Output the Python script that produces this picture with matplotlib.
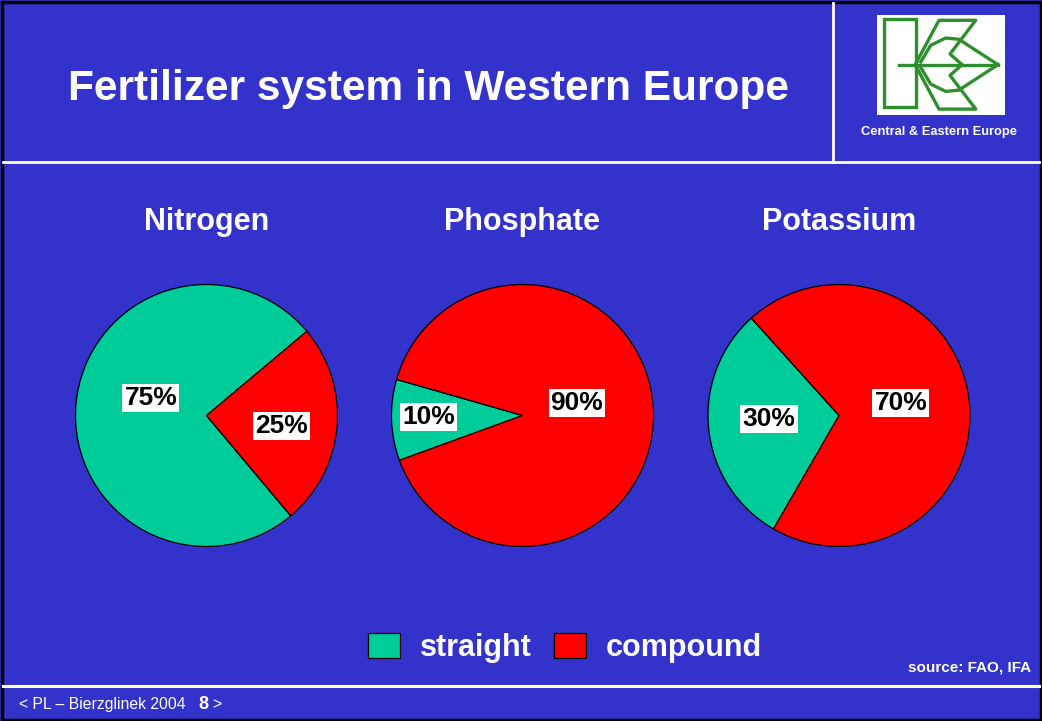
import matplotlib
matplotlib.use('Agg')
import matplotlib.pyplot as plt
from matplotlib.patches import Rectangle

plt.rcParams['font.family'] = ['Liberation Sans', 'DejaVu Sans']

# data
nutrients = ['Nitrogen', 'Phosphate', 'Potassium']
straight = [75, 10, 30]
compound = [25, 90, 70]
series_names = ['straight', 'compound']

# layout (pixels on a 1042x721 canvas)
W, H = 1042, 721
bg = '#3333CC'
green = '#00CC99'
red = '#FF0000'
centers = [(206.5, 415.5), (522.5, 415.5), (839, 415.5)]
radius = 131
start_angles = [40, 164, 132]
# label positions relative to pie centre, in radius units
label_pos = [[(-0.424, 0.134), (0.576, -0.080)],
             [(-0.714, -0.011), (0.416, 0.095)],
             [(-0.534, -0.027), (0.473, 0.095)]]

fig = plt.figure(figsize=(W / 100, H / 100), dpi=100)
fig.patch.set_facecolor(bg)

# overlay axes in pixel coordinates for the slide decorations
ax0 = fig.add_axes([0, 0, 1, 1])
ax0.set_xlim(0, W)
ax0.set_ylim(H, 0)
ax0.axis('off')

# frame
ax0.add_patch(Rectangle((1.5, 1.5), W - 3, H - 3, fill=False, ec='black', lw=2.5))
# header lines
ax0.plot([3, W - 3], [161.5, 161.5], color='white', lw=2)
ax0.plot([832.5, 832.5], [3, 161.5], color='white', lw=2)
# footer line
ax0.plot([3, W - 3], [685.5, 685.5], color='white', lw=2.2)

# title
ax0.text(429, 100, 'Fertilizer system in Western Europe', color='white',
         fontsize=30.5, fontweight='bold', ha='center', va='baseline')

# logo
ax0.add_patch(Rectangle((876.7, 14.7), 128, 100.6, fc='white', ec='none'))
lg = '#2f8f2f'
lw = 2.4
ax0.add_patch(Rectangle((884, 19.3), 31.7, 87.7, fill=False, ec=lg, lw=lw))
ax0.plot([899, 998], [64.7, 64.7], color=lg, lw=lw)
for s in (1, -1):
    def yy(v):
        return 64.7 + s * (v - 64.7)
    ax0.plot([915.7, 939, 975.7, 950, 962], [yy(63.7), yy(20.3), yy(20.3), yy(54), yy(64.7)],
             color=lg, lw=lw)
    ax0.plot([920.7, 930.7, 945.7, 959, 970.7, 998],
             [yy(62), yy(45.3), yy(38), yy(39.3), yy(47), yy(64.7)], color=lg, lw=lw)
ax0.text(939, 132, 'Central & Eastern Europe', color='white', fontsize=9.3,
         fontweight='bold', ha='center', va='center')

# subtitles
for name, (cx, cy) in zip(nutrients, centers):
    ax0.text(cx, 230, name, color='white', fontsize=22, fontweight='bold',
             ha='center', va='baseline')

# source and footer
ax0.text(1031, 668, 'source: FAO, IFA', color='white', fontsize=11,
         fontweight='bold', ha='right', va='center')
ax0.text(19, 709, '< PL \u2013 Bierzglinek 2004', color='white', fontsize=11.3,
         ha='left', va='baseline')
ax0.text(198, 709, '8', color='white', fontsize=13, fontweight='bold',
         ha='left', va='baseline')
ax0.text(212, 709, '>', color='white', fontsize=11.3, ha='left', va='baseline')

# pies
m = 1.05
handles = None
for i, (cx, cy) in enumerate(centers):
    size = 2 * radius * m
    ax = fig.add_axes([(cx - radius * m) / W, 1 - (cy + radius * m) / H,
                       size / W, size / H])
    wedges, _, autotexts = ax.pie(
        [straight[i], compound[i]], colors=[green, red],
        startangle=start_angles[i], counterclock=True,
        autopct=lambda p: f'{p:.0f}%',
        wedgeprops=dict(edgecolor='black', linewidth=0.9))
    ax.set_xlim(-m, m)
    ax.set_ylim(-m, m)
    ax.axis('off')
    for t, pos in zip(autotexts, label_pos[i]):
        t.set_position(pos)
        t.set_fontsize(19)
        t.set_fontweight('bold')
        t.set_color('black')
        t.set_bbox(dict(boxstyle='square,pad=0.08', fc='white', ec='none'))
    if handles is None:
        handles = wedges

leg = fig.legend(handles, series_names, loc='center', ncol=2,
                 bbox_to_anchor=(565 / W, 1 - 648 / H), frameon=False,
                 prop={'size': 22, 'weight': 'bold'},
                 handlelength=1.05, handleheight=0.9, handletextpad=0.65,
                 columnspacing=0.75, borderpad=0)
for t in leg.get_texts():
    t.set_color('white')

fig.savefig('out.png', dpi=100, facecolor=bg)
